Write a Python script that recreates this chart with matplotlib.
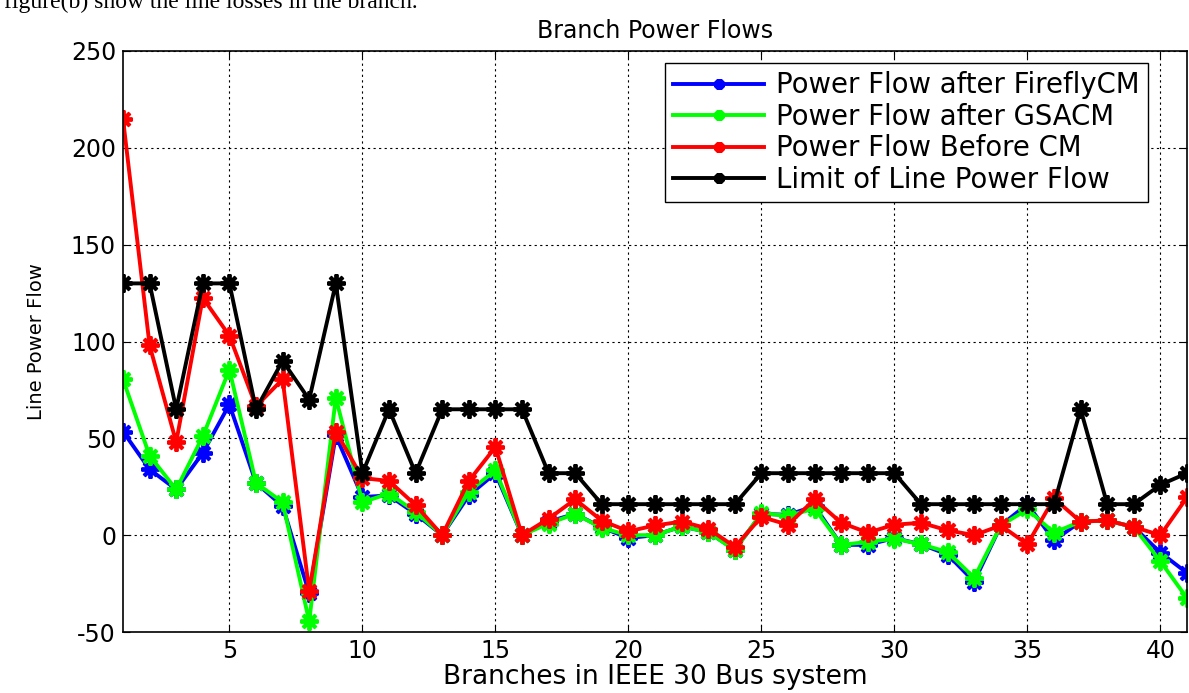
import matplotlib
matplotlib.use("Agg")
import matplotlib.pyplot as plt
import numpy as np

plt.rcParams['font.family'] = ['DejaVu Sans']
plt.rcParams['axes.unicode_minus'] = False

branches = list(range(1, 42))
firefly = [53.5, 34, 23.6, 42.5, 67.5, 27, 15, -30, 51.5, 19.7, 20.5, 11, 0, 20.5, 32, 0,
           7, 11, 4, -1.5, 0, 4.5, 1.6, -7.5, 11, 10.5, 15, -5, -5, -1.5,
           -4.7, -10, -24, 5, 16, -2.7, 7, 7.6, 4.2, -9, -19.5]
gsa = [80.5, 41, 23.6, 51, 85.5, 27, 17, -44.5, 71, 17, 21.5, 12, 0, 22.5, 33.5, 0,
       6, 11, 3.7, 0, 0, 4.5, 1.6, -7.8, 11.4, 10, 13.7, -5, -3.5, -1.8,
       -4.7, -8.7, -22, 5, 13.3, 1.3, 7, 7.6, 4.2, -13.5, -32.5]
before = [215, 98, 48, 122.5, 103, 66.5, 80.5, -29, 53.5, 29.5, 28, 15.5, 0, 28, 45.5, 0,
          8.5, 18.5, 7.5, 2, 5, 7, 3.4, -6, 9.4, 5.4, 18.5, 6.4, 1.3, 5.4,
          6.4, 2.5, 0, 5, -4.7, 19, 7, 7.6, 4.2, 0, 19.5]
limit = [130, 130, 65, 130, 130, 65, 90, 70, 130, 32, 65, 32, 65, 65, 65, 65,
         32, 32, 16, 16, 16, 16, 16, 16, 32, 32, 32, 32, 32, 32,
         16, 16, 16, 16, 16, 16, 65, 16, 16, 26, 32]

series = [
    (firefly, '#0000ff', 'Power Flow after FireflyCM'),
    (gsa, '#00ff00', 'Power Flow after GSACM'),
    (before, '#ff0000', 'Power Flow Before CM'),
    (limit, '#000000', 'Limit of Line Power Flow'),
]
xticks = [5, 10, 15, 20, 25, 30, 35, 40]
yticks = [-50, 0, 50, 100, 150, 200, 250]

fig = plt.figure(figsize=(11.89, 6.93), dpi=100)
ax = fig.add_axes([123/1189, 1 - 632/693, (1187 - 123)/1189, (632 - 51)/693])

for vals, col, lab in series:
    ax.plot(branches, vals, color=col, lw=2.8, marker=(8, 2, 0), ms=13, mew=2.8,
            label=lab)

ax.set_xlim(1, 41)
ax.set_ylim(-50, 250)
ax.set_xticks(xticks)
ax.set_yticks(yticks)
ax.grid(True, color='black', linestyle=(0, (2, 3)), lw=0.8)
ax.tick_params(direction='in', labelsize=17, top=True, right=True, length=5, pad=5)
for s in ax.spines.values():
    s.set_linewidth(1.2)

ax.set_title('Branch Power Flows', fontsize=17, pad=9)
ax.set_xlabel('Branches in IEEE 30 Bus system', fontsize=19, labelpad=1)
ax.set_ylabel('Line Power Flow', fontsize=14, labelpad=18)

leg = ax.legend(loc='upper right', bbox_to_anchor=(1148/1189, 1 - 63/693),
                bbox_transform=fig.transFigure, fontsize=19.8, numpoints=1,
                handlelength=3.3, fancybox=False, framealpha=1,
                edgecolor='black', borderpad=0.3, labelspacing=0.13,
                handletextpad=0.45, markerscale=0.6, borderaxespad=0)
leg.get_frame().set_linewidth(1.0)

fig.text(0.003, 1 - 8/693, 'figure(b) show the line losses in the branch.',
         fontsize=17, family=['Liberation Serif'], va='baseline', ha='left')

fig.savefig('out.png', dpi=100)
